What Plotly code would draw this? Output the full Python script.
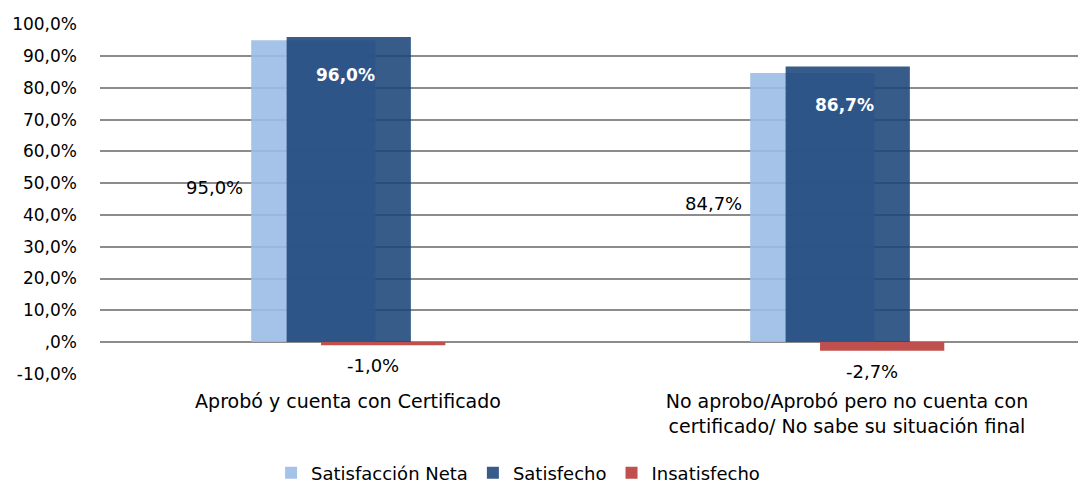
import plotly.graph_objects as go

categories = ["Aprobó y cuenta con Certificado",
              "No aprobo/Aprobó pero no cuenta con<br>certificado/ No sabe su situación final"]
neta = [95.0, 84.7]
satisfecho = [96.0, 86.7]
insatisfecho = [-1.0, -2.7]
tick_vals = [-10, 0, 10, 20, 30, 40, 50, 60, 70, 80, 90, 100]
tick_text = ["-10,0%", ",0%", "10,0%", "20,0%", "30,0%", "40,0%", "50,0%",
             "60,0%", "70,0%", "80,0%", "90,0%", "100,0%"]

def fmt(v):
    return f"{v:.1f}".replace(".", ",") + "%"

FONT = "DejaVu Sans"
W = 0.249
OFF = [-0.194, -0.123, -0.054]

fig = go.Figure()
fig.add_trace(go.Bar(name="Satisfacción Neta", x=categories, y=neta,
                     width=W, offset=OFF[0],
                     marker=dict(color="rgba(155,188,230,0.9)", line=dict(width=0))))
fig.add_trace(go.Bar(name="Satisfecho", x=categories, y=satisfecho,
                     width=W, offset=OFF[1],
                     marker=dict(color="rgba(28,69,122,0.88)", line=dict(width=0))))
fig.add_trace(go.Bar(name="Insatisfecho", x=categories, y=insatisfecho,
                     width=W, offset=OFF[2],
                     marker=dict(color="#C0504D", line=dict(width=0))))

ann = []
for i in range(len(categories)):
    ann.append(dict(x=i + OFF[0], y=neta[i] / 2, xref="x", yref="y", text=fmt(neta[i]),
                    showarrow=False, xanchor="right", xshift=-6, yshift=4,
                    font=dict(family=FONT, size=18, color="#000000")))
    ann.append(dict(x=i + OFF[1] + W / 2, y=satisfecho[i], xref="x", yref="y",
                    text="<b>" + fmt(satisfecho[i]) + "</b>",
                    showarrow=False, xanchor="center", yanchor="middle", yshift=-38, xshift=-3,
                    font=dict(family=FONT, size=17, color="#FFFFFF")))
    ann.append(dict(x=i + OFF[2] + W / 2, y=insatisfecho[i], xref="x", yref="y",
                    text=fmt(insatisfecho[i]),
                    showarrow=False, xanchor="center", yanchor="top", yshift=-8, xshift=-10,
                    font=dict(family=FONT, size=18, color="#000000")))

fig.update_layout(
    barmode="overlay",
    width=1078, height=476,
    margin=dict(l=92, r=0, t=16, b=110, autoexpand=False),
    paper_bgcolor="white", plot_bgcolor="white",
    font=dict(family=FONT, size=17, color="#000000"),
    showlegend=True,
    legend=dict(orientation="h", x=0.424, xanchor="center", y=-0.283, yanchor="middle",
                font=dict(family=FONT, size=18, color="#000000"),
                itemwidth=30, traceorder="normal"),
    annotations=ann,
    xaxis=dict(type="category", range=[-0.497, 1.479], showgrid=False, zeroline=False,
               showline=False, ticks="", automargin=False,
               tickfont=dict(family=FONT, size=19, color="#000000"),
               ticklabelstandoff=14),
    yaxis=dict(range=[-10.05, 100.1], tickvals=tick_vals, ticktext=tick_text,
               showgrid=True, gridcolor="#8C8C8C", gridwidth=1.5,
               zeroline=True, zerolinecolor="#8C8C8C", zerolinewidth=1.5,
               showline=False, ticks="", ticklabelstandoff=22, automargin=False,
               tickfont=dict(family=FONT, size=17, color="#000000")),
)

fig.write_html("out.html")
